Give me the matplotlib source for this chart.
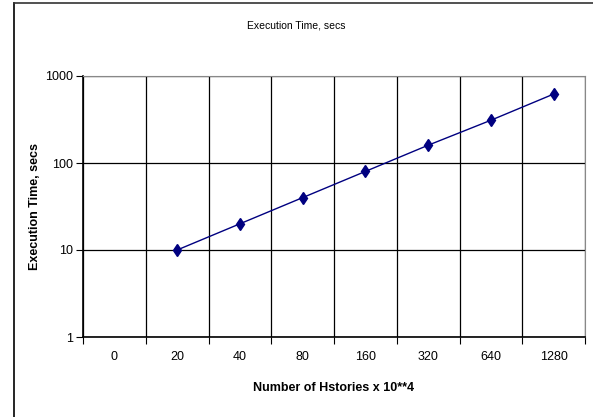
import matplotlib.pyplot as plt
import numpy as np
from matplotlib.lines import Line2D

plt.rcParams['font.family'] = ['Liberation Sans', 'DejaVu Sans']

categories = ["0", "20", "40", "80", "160", "320", "640", "1280"]
plotted = ["20", "40", "80", "160", "320", "640", "1280"]
exec_time = [10, 20, 40, 80, 160, 310, 620]


def main():
    fig = plt.figure(figsize=(5.93, 4.17), dpi=100)
    ax = fig.add_axes([83 / 593, 80 / 417, 502 / 593, 261 / 417])

    xpos = [categories.index(c) for c in plotted]
    ax.plot(xpos, exec_time, color="#000080", lw=1.0, marker="d",
            markersize=6, markerfacecolor="#000080", markeredgecolor="#000080")

    ax.set_yscale("log")
    ax.set_ylim(1, 1000)
    ax.set_xlim(-0.5, len(categories) - 0.5)
    ax.set_yticks([1, 10, 100, 1000])
    ax.set_yticklabels(["1", "10", "100", "1000"], fontsize=9)
    ax.yaxis.set_minor_locator(plt.NullLocator())

    ax.set_xticks(np.arange(-0.5, len(categories), 1.0))
    ax.set_xticklabels([])
    ax.set_xticks(np.arange(len(categories)), minor=True)
    ax.set_xticklabels(categories, minor=True, fontsize=9)
    ax.tick_params(axis="x", which="minor", length=0, pad=10)
    ax.tick_params(axis="x", which="major", length=5, color="black")
    ax.tick_params(axis="y", length=5, pad=2)

    ax.grid(True, which="major", color="black", lw=0.9)
    for s in ["top", "right"]:
        ax.spines[s].set_color("#888888")
    for s in ["left", "bottom"]:
        ax.spines[s].set_color("black")
        ax.spines[s].set_linewidth(1.2)

    ax.set_xlabel("Number of Hstories x 10**4", fontsize=9, fontweight="bold", labelpad=14)
    ax.set_ylabel("Execution Time, secs", fontsize=9, fontweight="bold", labelpad=3)
    fig.text(0.5, 1 - 25 / 417, "Execution Time, secs", ha="center", va="center", fontsize=7.5)

    # chart frame (left and top edges visible)
    fig.add_artist(Line2D([14 / 593, 14 / 593], [0, 1 - 3 / 417], transform=fig.transFigure,
                          color="black", lw=1.2))
    fig.add_artist(Line2D([14 / 593, 1], [1 - 3 / 417, 1 - 3 / 417], transform=fig.transFigure,
                          color="#333333", lw=1.2))

    fig.savefig("out.png", dpi=100)


if __name__ == "__main__":
    main()
